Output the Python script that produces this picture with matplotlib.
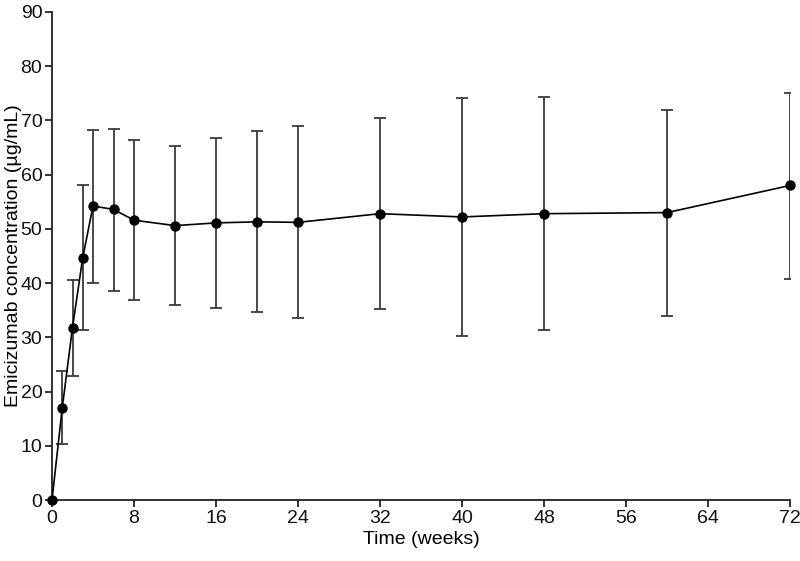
import numpy as np
import matplotlib
matplotlib.use("Agg")
import matplotlib.pyplot as plt

plt.rcParams['font.family'] = ['Liberation Sans', 'DejaVu Sans']

# 数据
weeks = [0, 1, 2, 3, 4, 6, 8, 12, 16, 20, 24, 32, 40, 48, 60, 72]
mean_conc = [0.0, 17.0, 31.8, 44.7, 54.2, 53.6, 51.6, 50.6, 51.1, 51.3, 51.2,
             52.8, 52.2, 52.8, 53.0, 58.0]
upper = [0.0, 23.8, 40.6, 58.1, 68.2, 68.5, 66.3, 65.3, 66.7, 68.0, 68.9,
         70.5, 74.2, 74.4, 72.0, 75.1]
lower = [0.0, 10.4, 22.8, 31.4, 40.0, 38.6, 36.9, 35.9, 35.4, 34.6, 33.5,
         35.2, 30.3, 31.3, 33.9, 40.7]

x = np.array(weeks)
y = np.array(mean_conc)
yerr = np.vstack([y - np.array(lower), np.array(upper) - y])

fig = plt.figure(figsize=(8.0, 5.61), dpi=100)
ax = fig.add_axes([0.065, 0.1087, 0.9225, 0.87])

ax.errorbar(x[1:], y[1:], yerr=yerr[:, 1:], fmt='none', ecolor='#3a3a3a',
            elinewidth=1.3, capsize=4.5, capthick=1.3, zorder=2)
ax.plot(x, y, color='black', linewidth=1.2, marker='o', markersize=6.5,
        markerfacecolor='black', markeredgecolor='black', zorder=3, clip_on=False)

ax.set_xlim(0, 72)
ax.set_ylim(0, 90)
ax.set_xticks(np.arange(0, 73, 8))
ax.set_yticks(np.arange(0, 91, 10))

for side in ['top', 'right']:
    ax.spines[side].set_visible(False)
for side in ['left', 'bottom']:
    ax.spines[side].set_linewidth(1.3)
    ax.spines[side].set_color('#222222')

ax.tick_params(direction='out', length=5, width=1.2, pad=2, labelsize=14, colors='#111111')
ax.set_xlabel('Time (weeks)', fontsize=14, labelpad=3)
ax.set_ylabel('Emicizumab concentration (\u00b5g/mL)', fontsize=14)
ax.yaxis.set_label_coords(-0.041, 0.5)

fig.savefig('out.png', dpi=100)
